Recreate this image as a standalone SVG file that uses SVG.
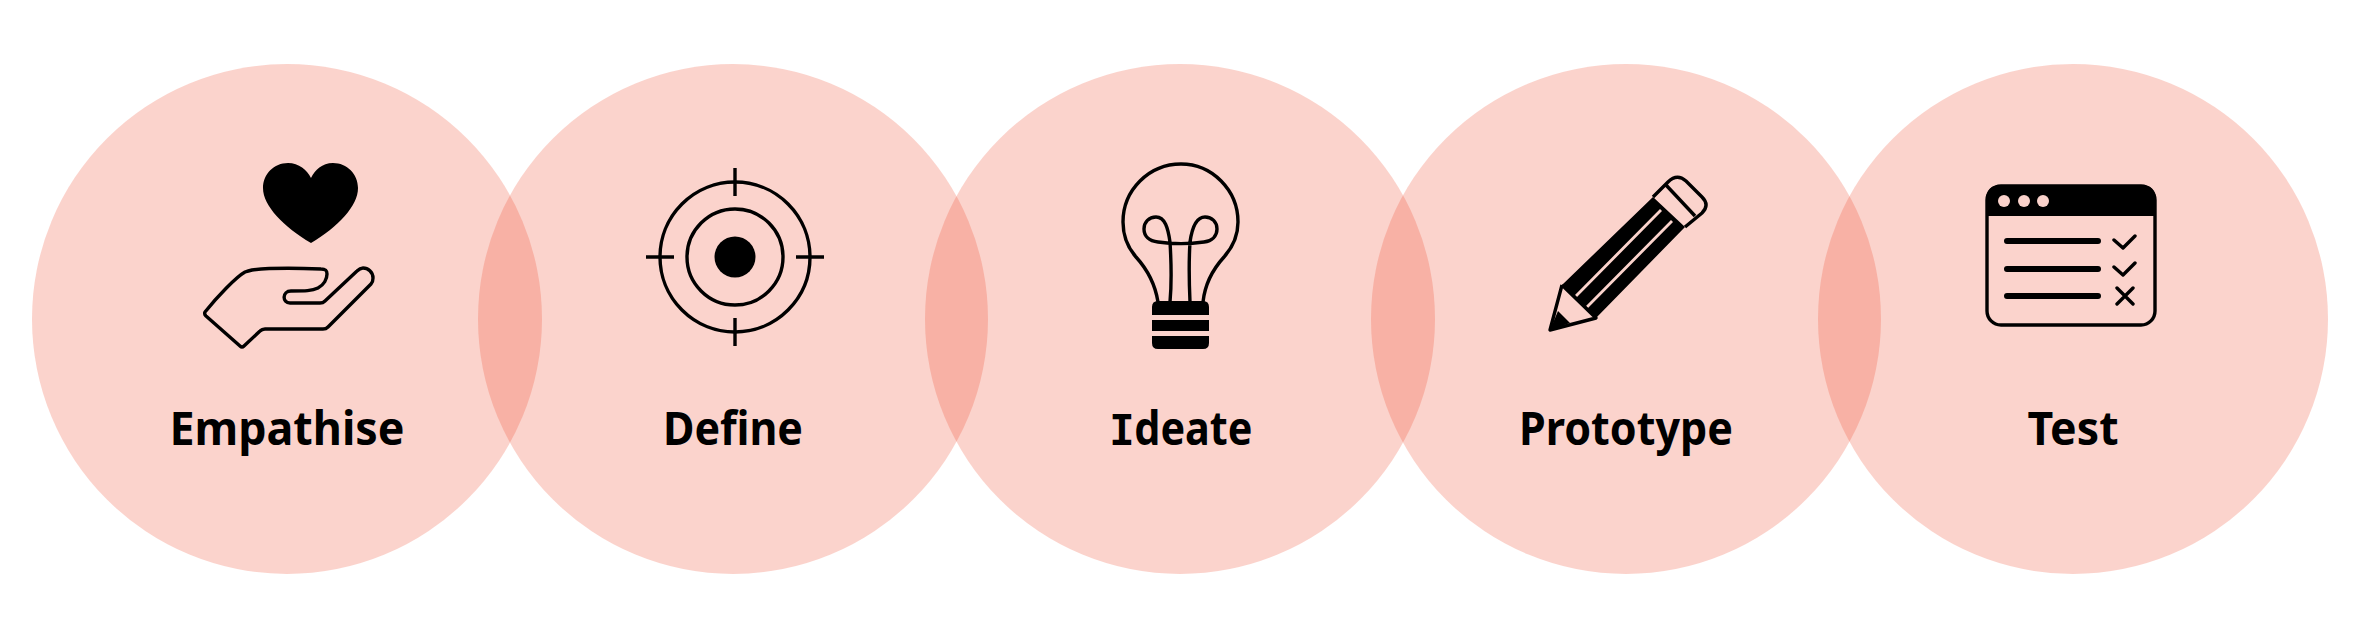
<svg xmlns="http://www.w3.org/2000/svg" width="2360" height="638" viewBox="0 0 2360 638">
<style>
.c{fill:#f04c2e;fill-opacity:.244}
.l{font-family:"Noto Sans","Liberation Sans",sans-serif;font-weight:700;font-size:46px;fill:#000}
.s{fill:none;stroke:#000;stroke-width:3.4;stroke-linecap:round;stroke-linejoin:round}
.t{fill:none;stroke:#000;stroke-width:3.4}
.w{fill:none;stroke:#000;stroke-width:6;stroke-linecap:round;stroke-linejoin:round}
</style>
<rect width="2360" height="638" fill="#fff"/>
<g id="connectors"></g>
<g id="empathise">
<circle class="c" cx="287" cy="319" r="255"/>
<path d="M311 178C307 170 299 163 288 163C274 163 263 174 263 188C263 206 284 227 311 243C338 227 358 206 358 188C358 174 347 163 333 163C322 163 315 170 311 178Z"/>
<path class="s" d="M205 312Q204 314 206 316L240 346Q242 348 244 346L260 331Q262 329 265 329L323 329Q326 329 328 327L371 284Q373 282 373 278C373 272 368 268 363 268Q360 268 357 271L325 301Q323 303 320 303L290 303C282 303 282 291 291 291C305 291 312 291 318 288C324 285 327 279 327 274C327 270 325 269 321 269C295 268 268 268 252 270Q248 271 245 272C236 277 217 297 205 312Z"/>
<text class="l" x="287" y="445" text-anchor="middle" textLength="235" lengthAdjust="spacingAndGlyphs">Empathise</text>
</g>
<g id="define">
<circle class="c" cx="733" cy="319" r="255"/>
<circle class="t" cx="735" cy="257" r="75"/>
<circle class="t" cx="735" cy="257" r="48"/>
<circle cx="735" cy="257" r="20.5"/>
<path class="t" d="M735 168V196M735 318V346M646 257H674M796 257H824"/>
<text class="l" x="733" y="445" text-anchor="middle" textLength="140" lengthAdjust="spacingAndGlyphs">Define</text>
</g>
<g id="ideate">
<circle class="c" cx="1180" cy="319" r="255"/>
<path class="t" d="M1158 302C1155 283 1146 268 1136 257C1128 248 1123 238 1123 222C1123 190 1149 164 1181 164C1212 164 1238 190 1238 222C1238 238 1232 248 1224 257C1214 268 1205 283 1203 302"/>
<path class="t" d="M1170 302C1172 280 1171 258 1170 242C1168 228 1165 217 1156 217C1149 217 1144 222 1144 229C1144 236 1149 241 1158 242C1172 244 1190 244 1204 242C1212 241 1217 236 1217 229C1217 222 1212 217 1205 217C1196 217 1192 228 1190 242C1189 258 1189 280 1190 302"/>
<path d="M1152 315V307Q1152 301 1158 301H1203Q1209 301 1209 307V315ZM1152 320H1209V331H1152ZM1152 336H1209V343Q1209 349 1203 349H1158Q1152 349 1152 343Z"/>
<text class="l" x="1181" y="445" text-anchor="middle" textLength="143" lengthAdjust="spacingAndGlyphs"><tspan font-family="'Liberation Mono',monospace">I</tspan>deate</text>
</g>
<g id="prototype">
<circle class="c" cx="1626" cy="319" r="255"/>
<path fill-rule="evenodd" d="M1562 285L1653 197L1685 227L1596 318ZM1575 295L1577 297L1662 211L1660 209ZM1586 306L1588 308L1673 222L1671 220Z"/>
<path d="M1550 330L1558 311L1570 323Z"/>
<path class="t" stroke-linejoin="round" d="M1562 285L1550 330L1596 318L1562 285"/>
<path class="t" d="M1653 197L1668 182Q1677 173 1686 181L1702 197Q1710 205 1702 213L1685 227"/>
<path class="t" d="M1666 185L1695 216"/>
<text class="l" x="1626" y="445" text-anchor="middle" textLength="214" lengthAdjust="spacingAndGlyphs">Prototype</text>
</g>
<g id="test">
<circle class="c" cx="2073" cy="319" r="255"/>
<rect class="t" x="1987" y="186" width="168" height="139" rx="14"/>
<path d="M1986 216V200Q1986 185 2001 185H2141Q2156 185 2156 200V216Z"/>
<g fill="#fad2cb"><circle cx="2004" cy="201" r="6"/><circle cx="2024" cy="201" r="6"/><circle cx="2043" cy="201" r="6"/></g>
<path class="w" d="M2007 241H2098M2007 269H2098M2007 296H2098"/>
<path class="s" d="M2114 240L2123 248L2135 236M2114 267L2123 275L2135 263M2117 288L2133 304M2133 288L2117 304"/>
<text class="l" x="2073" y="445" text-anchor="middle" textLength="91" lengthAdjust="spacingAndGlyphs">Test</text>
</g>
</svg>
